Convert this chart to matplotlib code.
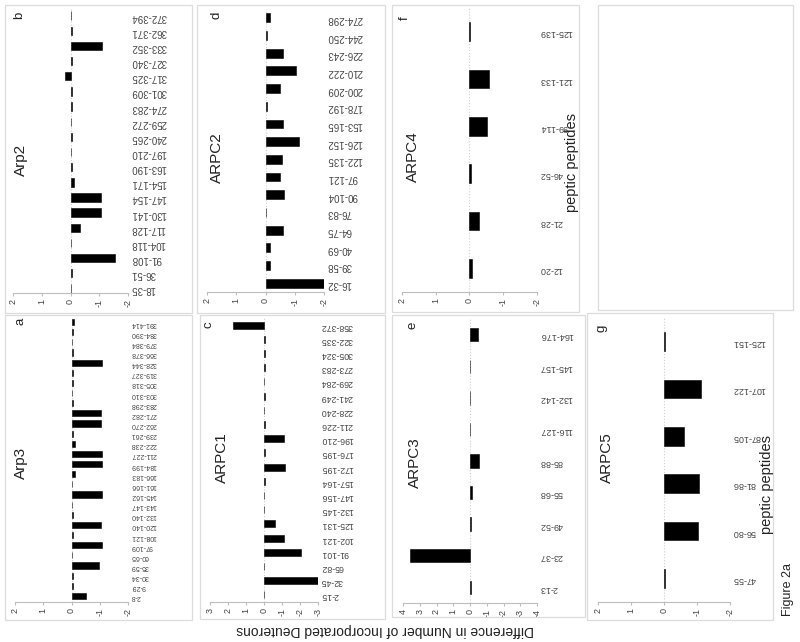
import matplotlib
matplotlib.use("Agg")
import matplotlib.pyplot as plt
from matplotlib.patches import Rectangle

plt.rcParams['font.family'] = ['Liberation Sans', 'DejaVu Sans']
plt.rcParams['axes.unicode_minus'] = False

W, H = 800, 642

# ---- data (difference in number of incorporated deuterons) ----
arp2_pep = ["18-35", "36-51", "91-108", "104-118", "117-128", "130-141", "147-154",
            "154-171", "163-190", "197-210", "240-265", "259-272", "274-283", "301-309",
            "317-325", "327-340", "333-352", "362-371", "372-394"]
arp2_val = [-0.02, -0.05, -1.56, -0.03, -0.32, -1.06, -1.06, -0.12, -0.06, -0.03,
            -0.06, 0.0, -0.05, -0.05, 0.18, -0.05, -1.1, -0.05, -0.03]

arpc2_pep = ["16-32", "39-58", "40-69", "64-75", "76-83", "90-104", "97-121", "122-135",
             "126-152", "153-165", "178-192", "200-209", "210-222", "226-243", "244-250",
             "274-298"]
arpc2_val = [-2.0, -0.14, -0.17, -0.6, -0.03, -0.64, -0.49, -0.55, -1.14, -0.6, -0.04,
             -0.51, -1.05, -0.6, -0.04, -0.15]

arpc4_pep = ["12-20", "21-28", "46-52", "99-114", "121-133", "125-139"]
arpc4_val = [-0.07, -0.27, -0.03, -0.53, -0.58, -0.02]

arp3_pep = ["2-8", "9-29", "30-34", "35-59", "60-65", "97-109", "108-121", "120-140",
            "132-140", "143-147", "145-162", "161-166", "166-183", "184-199", "211-227",
            "222-238", "239-261", "262-270", "271-282", "283-298", "303-310", "305-318",
            "319-327", "328-344", "366-378", "379-384", "384-390", "391-414"]
arp3_val = [-0.51, -0.06, -0.04, -0.99, -0.03, -1.08, -0.05, -1.06, -0.04, -0.03, -1.08,
            -0.03, -0.12, -1.08, -1.09, -0.12, -0.06, -1.03, -1.06, -0.04, -0.03, -0.05,
            -0.04, -1.09, -0.05, -0.03, -0.04, -0.1]

arpc1_pep = ["2-15", "32-45", "65-82", "91-101", "102-121", "125-131", "132-145",
             "147-156", "157-164", "172-195", "176-195", "196-210", "211-226", "228-240",
             "241-249", "269-284", "273-283", "305-324", "322-335", "358-372"]
arpc1_val = [-0.02, -3.0, -0.02, -2.08, -1.1, -0.6, -0.01, -0.02, -0.04, -1.16, -0.03,
             -1.1, -0.04, -0.02, -0.03, -0.02, -0.03, -0.03, -0.03, 1.75]

arpc3_pep = ["2-13", "23-37", "49-52", "55-68", "85-88", "116-127", "132-142", "145-157",
             "164-176"]
arpc3_val = [-0.04, 3.6, -0.03, -0.12, -0.54, -0.02, -0.02, -0.02, -0.46]

arpc5_pep = ["47-55", "56-80", "81-86", "87-105", "107-122", "125-151"]
arpc5_val = [-0.03, -1.04, -1.05, -0.62, -1.13, -0.04]

fig = plt.figure(figsize=(8, 6.42), dpi=100)


def px_axes(x0, y0, x1, y1):
    return fig.add_axes([x0 / W, 1 - y1 / H, (x1 - x0) / W, (y1 - y0) / H])


def panel(box, peps, vals, lim, ylo, thick, lab_fs, name, name_xy, letter, letter_xy):
    ax = px_axes(*box)
    n = len(peps)
    ax.barh(range(n), vals, height=thick, color='black', edgecolor='black', linewidth=0.4)
    ax.set_xlim(lim, -lim)
    ax.set_ylim(ylo, n - 0.5)
    ax.axvline(0, color='#d0d0d0', lw=0.8, ls=':', zorder=0)
    for s in ['top', 'left', 'right']:
        ax.spines[s].set_visible(False)
    ax.spines['bottom'].set_color('#bdbdbd')
    ax.spines['bottom'].set_linewidth(0.8)
    ax.set_xticks(range(-lim, lim + 1))
    ax.tick_params(axis='x', length=2, color='#bdbdbd', labelsize=6.5, labelcolor='#444444',
                   labelrotation=90, pad=2)
    ax.set_yticks(range(n))
    ax.set_yticklabels(peps)
    ax.yaxis.tick_right()
    ax.tick_params(axis='y', length=0, labelsize=lab_fs, labelcolor='#444444',
                   labelrotation=180, pad=2)
    ax.patch.set_alpha(0)
    fig.text(name_xy[0] / W, 1 - name_xy[1] / H, name, rotation=90, ha='center',
             va='center', fontsize=11, color='#222222')
    fig.text(letter_xy[0] / W, 1 - letter_xy[1] / H, letter, rotation=90, ha='center',
             va='center', fontsize=9.5, color='#222222')
    return ax


# panel frames
frames = [(5, 5, 192, 313), (197, 5, 385, 313), (392, 5, 579, 312), (598, 5, 793, 310),
          (5, 315, 192, 620), (200, 315, 385, 619), (392, 315, 585, 617), (587, 313, 773, 620)]
for x0, y0, x1, y1 in frames:
    fig.patches.append(Rectangle((x0 / W, 1 - y1 / H), (x1 - x0) / W, (y1 - y0) / H,
                                 transform=fig.transFigure, fill=False,
                                 edgecolor='#dcdcdc', lw=0.9))

panel((13, 8, 128, 293), arp2_pep, arp2_val, 2, -0.3, 0.55, 7, "Arp2", (21, 160), "b", (19, 15))
panel((207, 9, 324, 292), arpc2_pep, arpc2_val, 2, -0.5, 0.5, 7, "ARPC2", (217, 158), "d", (217, 15))
panel((402, 8, 537, 292), arpc4_pep, arpc4_val, 2, -0.5, 0.4, 6.5, "ARPC4", (413, 157), "f", (405, 18))
panel((15, 317, 128, 602), arp3_pep, arp3_val, 2, -0.6, 0.6, 5, "Arp3", (21, 463), "a", (20, 321))
panel((210, 318, 318, 602), arpc1_pep, arpc1_val, 3, -0.5, 0.5, 6.3, "ARPC1", (222, 458), "c", (208, 325))
panel((403, 319, 537, 603), arpc3_pep, arpc3_val, 4, -0.5, 0.42, 6.5, "ARPC3", (415, 463), "e", (412, 325))
panel((598, 318, 730, 602), arpc5_pep, arpc5_val, 2, -0.5, 0.4, 6.5, "ARPC5", (607, 458), "g", (602, 328))

fig.text(385 / W, 1 - 630 / H, "Difference in Number of Incorporated Deuterons",
         rotation=180, ha='center', va='center', fontsize=10, color='#222222')
fig.text(572 / W, 1 - 163 / H, "peptic peptides", rotation=90, ha='center', va='center',
         fontsize=10.5, color='#222222')
fig.text(767 / W, 1 - 485 / H, "peptic peptides", rotation=90, ha='center', va='center',
         fontsize=10.5, color='#222222')
fig.text(788 / W, 1 - 590 / H, "Figure 2a", rotation=90, ha='center', va='center',
         fontsize=9, color='#222222')

fig.savefig("out.png", dpi=100)
